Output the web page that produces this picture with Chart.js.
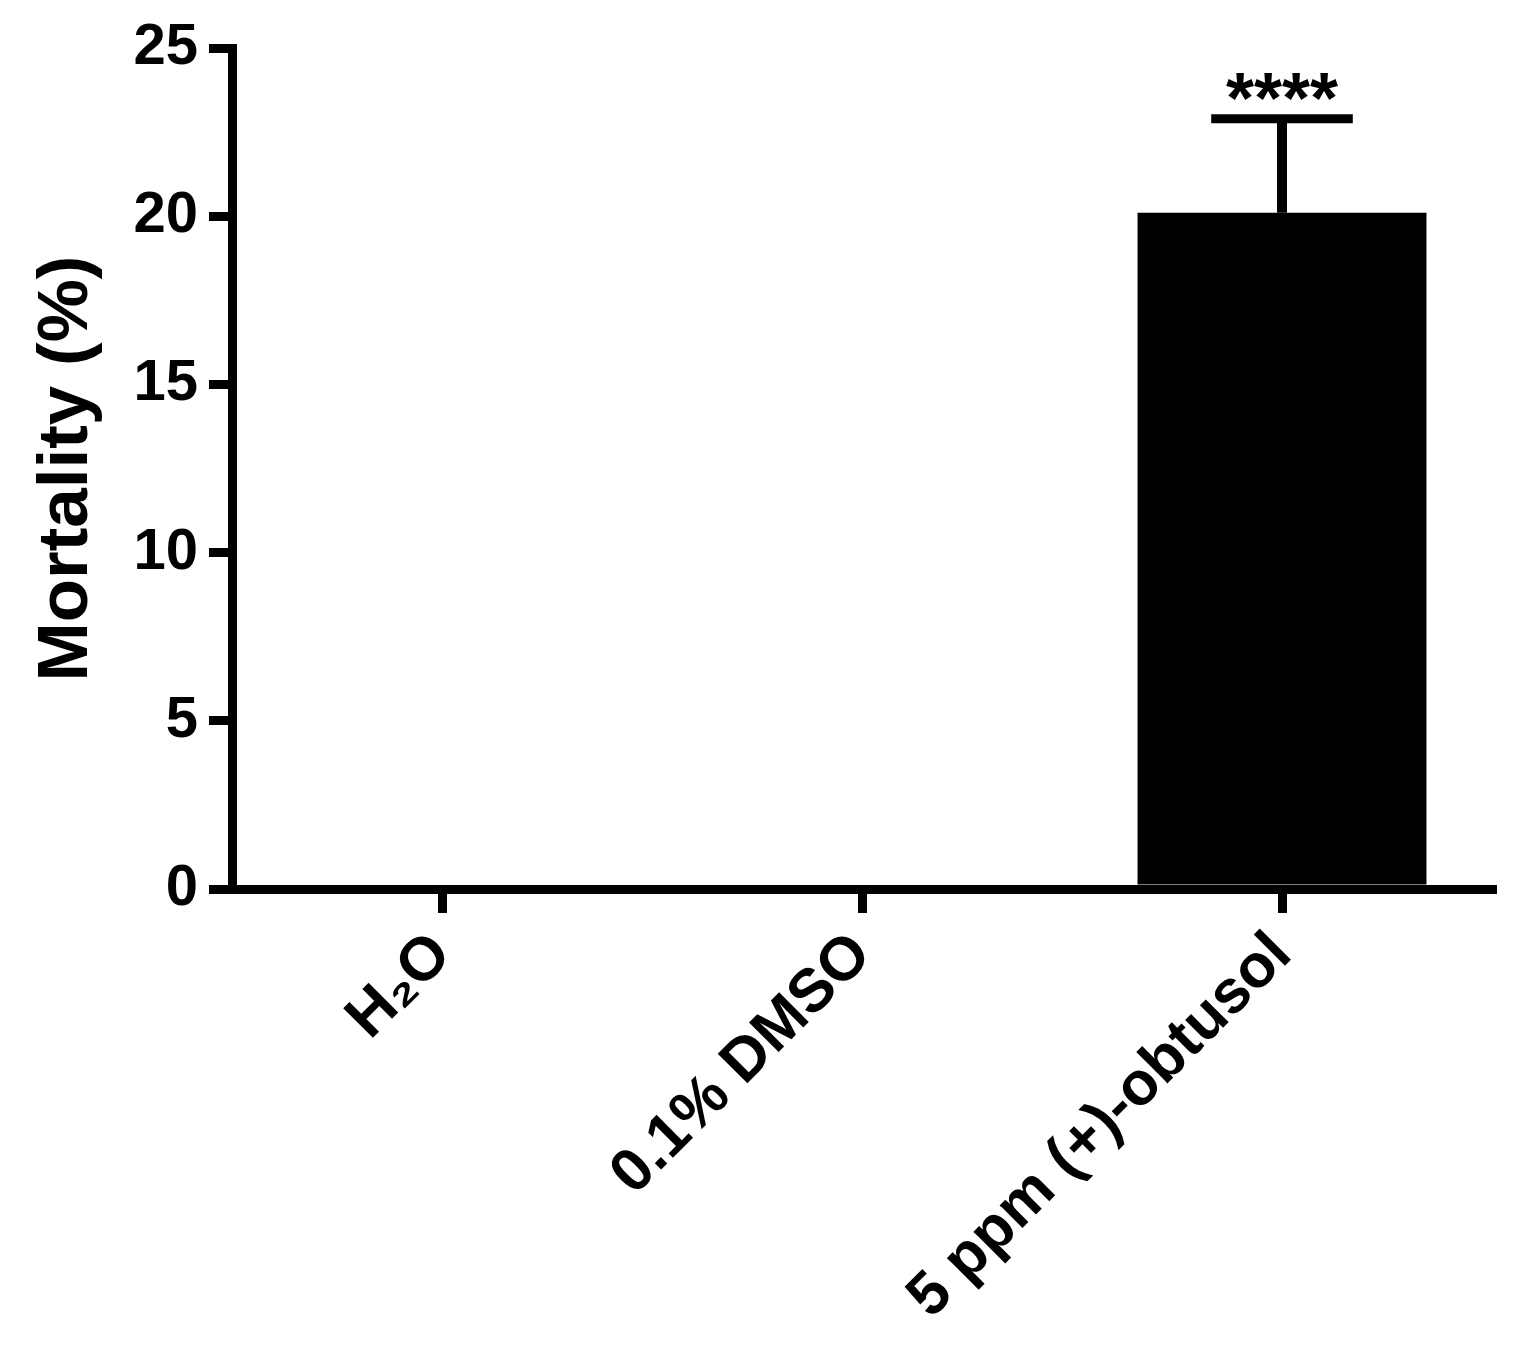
<!DOCTYPE html>
<html>
<head>
<meta charset="utf-8">
<script src="https://cdn.jsdelivr.net/npm/chart.js@4.4.1/dist/chart.umd.min.js"></script>
<style>
  html, body { margin: 0; padding: 0; background: #fff; }
  #wrap { width: 1529px; height: 1350px; }
</style>
</head>
<body>
<div id="wrap"><canvas id="chart" width="1529" height="1350"></canvas></div>
<script>
// data
const categories = ['H\u2082O', '0.1% DMSO', '5 ppm (+)-obtusol'];
const mortality = [0, 0, 20.1];
const sem = [0, 0, 2.8];
const significance = ['', '', '****'];
const yTicks = [0, 5, 10, 15, 20, 25];

const FONT = '"Liberation Sans", Arial, Helvetica, sans-serif';

// error bars + asterisks drawn from the bar elements and y scale
const errorBars = {
    id: 'errorBars',
    afterDatasetsDraw(chart) {
        const ctx = chart.ctx;
        const y = chart.scales.y;
        const meta = chart.getDatasetMeta(0);
        meta.data.forEach((bar, i) => {
            if (!sem[i]) return;
            const yTop = y.getPixelForValue(mortality[i] + sem[i]);
            const yMean = y.getPixelForValue(mortality[i]);
            const half = bar.width * 0.245;
            ctx.save();
            ctx.strokeStyle = '#000';
            ctx.lineWidth = 10;
            ctx.beginPath();
            ctx.moveTo(bar.x, yMean);
            ctx.lineTo(bar.x, yTop);
            ctx.stroke();
            ctx.lineWidth = 9;
            ctx.beginPath();
            ctx.moveTo(bar.x - half, yTop);
            ctx.lineTo(bar.x + half, yTop);
            ctx.stroke();
            if (significance[i]) {
                ctx.fillStyle = '#000';
                ctx.font = 'bold 72px ' + FONT;
                ctx.textAlign = 'center';
                ctx.textBaseline = 'alphabetic';
                ctx.fillText(significance[i], bar.x, yTop + 4);
            }
            ctx.restore();
        });
    }
};

const ctx = document.getElementById('chart').getContext('2d');
new Chart(ctx, {
    type: 'bar',
    data: {
        labels: categories,
        datasets: [{
            label: 'Mortality',
            data: mortality,
            backgroundColor: '#000',
            borderWidth: 0,
            categoryPercentage: 1,
            barPercentage: 0.688
        }]
    },
    options: {
        responsive: false,
        animation: false,
        layout: { padding: { top: 48, right: 37, left: 0, bottom: 0 } },
        plugins: {
            legend: { display: false },
            tooltip: { enabled: false }
        },
        scales: {
            x: {
                afterFit: s => { s.height = 1350 - 889; },
                grid: {
                    drawOnChartArea: false,
                    drawTicks: true,
                    tickLength: 24,
                    lineWidth: 9,
                    color: '#000',
                    offset: false
                },
                border: { display: true, color: '#000', width: 9 },
                ticks: {
                    color: '#000',
                    minRotation: 45,
                    maxRotation: 45,
                    padding: 6,
                    font: { family: FONT, size: 61, weight: 'bold' }
                }
            },
            y: {
                min: 0,
                max: 25,
                afterFit: s => { s.width = 232; },
                afterBuildTicks: s => { s.ticks = yTicks.map(v => ({ value: v })); },
                grid: {
                    drawOnChartArea: false,
                    drawTicks: true,
                    tickLength: 23,
                    lineWidth: 9,
                    color: '#000'
                },
                border: { display: true, color: '#000', width: 9 },
                ticks: {
                    color: '#000',
                    padding: 11,
                    font: { family: FONT, size: 58, weight: 'bold' }
                },
                title: {
                    display: true,
                    text: 'Mortality (%)',
                    color: '#000',
                    padding: { top: 32, bottom: 0 },
                    font: { family: FONT, size: 71, weight: 'bold', lineHeight: 1 }
                }
            }
        }
    },
    plugins: [errorBars]
});
</script>
</body>
</html>
